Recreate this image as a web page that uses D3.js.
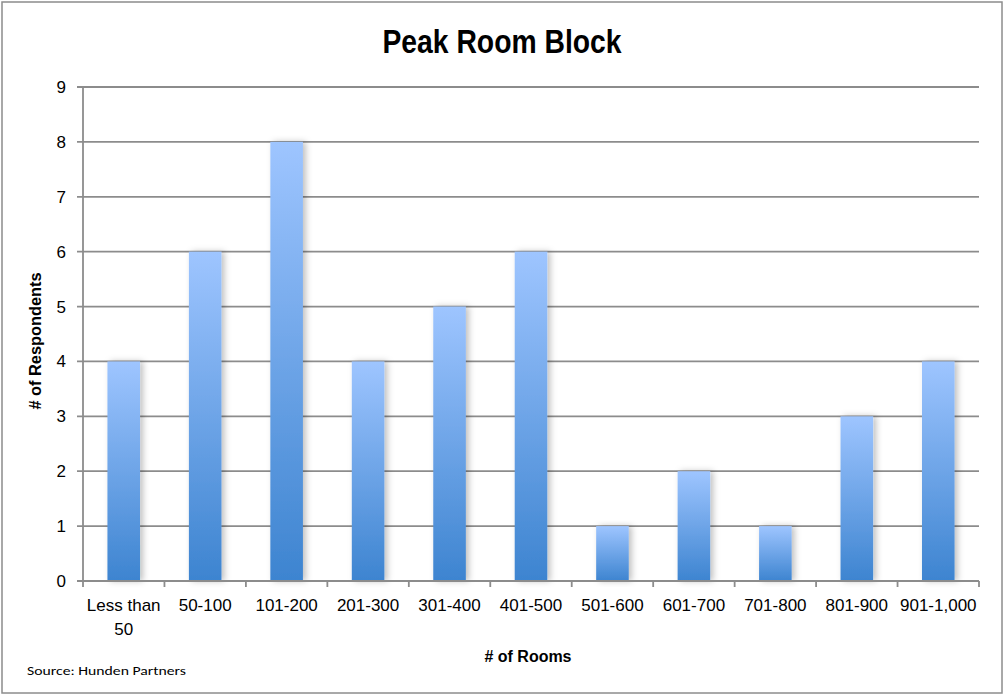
<!DOCTYPE html>
<html>
<head>
<meta charset="utf-8">
<script src="https://cdn.jsdelivr.net/npm/d3@7"></script>
<style>
  body { margin: 0; background: #fff; }
  .narrow { font-family: "Liberation Sans Narrow", "Arial Narrow", "Liberation Sans", Arial, sans-serif; }
</style>
</head>
<body>
<script>
// data
const categories = ["Less than 50", "50-100", "101-200", "201-300", "301-400", "401-500",
  "501-600", "601-700", "701-800", "801-900", "901-1,000"];
const respondents = [4, 6, 8, 4, 5, 6, 1, 2, 1, 3, 4];
const yTicks = [0, 1, 2, 3, 4, 5, 6, 7, 8, 9];

const width = 1003, height = 694;
const margin = { top: 87, right: 24, bottom: 113, left: 83 };

var svg = d3.select("body").append("svg")
  .attr("width", width)
  .attr("height", height);

// gradient + shadow
var defs = svg.append("defs");
var grad = defs.append("linearGradient")
  .attr("id", "barGrad")
  .attr("x1", 0).attr("y1", 0).attr("x2", 0).attr("y2", 1);
grad.append("stop").attr("offset", "0%").attr("stop-color", "#9ec5ff");
grad.append("stop").attr("offset", "100%").attr("stop-color", "#3d84d0");

var filt = defs.append("filter").attr("id", "shadow")
  .attr("x", "-30%").attr("y", "-10%").attr("width", "170%").attr("height", "120%");
filt.append("feDropShadow")
  .attr("dx", 3).attr("dy", 0).attr("stdDeviation", 3)
  .attr("flood-color", "#000").attr("flood-opacity", 0.25);

// outer border
svg.append("rect")
  .attr("x", 2).attr("y", 2)
  .attr("width", width - 3).attr("height", height - 3)
  .attr("fill", "none")
  .attr("stroke", "#8c8c8c")
  .attr("stroke-width", 1.5);

var x = d3.scaleBand()
  .domain(categories)
  .range([margin.left, width - margin.right])
  .paddingInner(0.6)
  .paddingOuter(0.3);

var y = d3.scaleLinear()
  .domain([0, 9])
  .range([height - margin.bottom, margin.top]);

// gridlines
svg.append("g")
  .selectAll("line")
  .data(yTicks)
  .enter()
  .append("line")
  .attr("x1", margin.left - 6)
  .attr("x2", width - margin.right)
  .attr("y1", d => y(d))
  .attr("y2", d => y(d))
  .attr("stroke", "#8c8c8c")
  .attr("stroke-width", 1.8);

// y axis line
svg.append("line")
  .attr("x1", margin.left).attr("x2", margin.left)
  .attr("y1", y(9)).attr("y2", y(0))
  .attr("stroke", "#8c8c8c").attr("stroke-width", 1.8);

// y tick labels
svg.append("g")
  .selectAll("text")
  .data(yTicks)
  .enter()
  .append("text")
  .attr("class", "narrow")
  .attr("x", margin.left - 17)
  .attr("y", d => y(d) + 6)
  .attr("text-anchor", "end")
  .style("font-size", "17px")
  .text(d => d);

// bars
svg.append("g")
  .selectAll("rect")
  .data(respondents)
  .enter()
  .append("rect")
  .attr("x", (d, i) => x(categories[i]))
  .attr("y", d => y(d))
  .attr("width", x.bandwidth())
  .attr("height", d => y(0) - y(d))
  .attr("fill", "url(#barGrad)")
  .attr("filter", "url(#shadow)");

// x axis line + ticks at band boundaries
var bounds = d3.range(categories.length + 1).map(i => margin.left + i * (width - margin.right - margin.left) / categories.length);
svg.append("line")
  .attr("x1", margin.left).attr("x2", width - margin.right)
  .attr("y1", y(0)).attr("y2", y(0))
  .attr("stroke", "#8c8c8c").attr("stroke-width", 1.8);
svg.append("g")
  .selectAll("line")
  .data(bounds)
  .enter()
  .append("line")
  .attr("x1", d => d).attr("x2", d => d)
  .attr("y1", y(0)).attr("y2", y(0) + 6)
  .attr("stroke", "#8c8c8c").attr("stroke-width", 1.8);

// x labels
var xl = svg.append("g")
  .selectAll("text")
  .data(categories)
  .enter()
  .append("text")
  .attr("class", "narrow")
  .attr("text-anchor", "middle")
  .attr("x", d => x(d) + x.bandwidth() / 2)
  .attr("y", y(0) + 30)
  .style("font-size", "17px");
xl.each(function (d) {
  var t = d3.select(this);
  if (d === "Less than 50") {
    t.append("tspan").attr("x", x(d) + x.bandwidth() / 2).text("Less than");
    t.append("tspan").attr("x", x(d) + x.bandwidth() / 2).attr("dy", 24).text("50");
  } else {
    t.text(d);
  }
});

// title
svg.append("text")
  .attr("class", "narrow")
  .attr("x", 502)
  .attr("y", 53)
  .attr("text-anchor", "middle")
  .attr("textLength", 239)
  .attr("lengthAdjust", "spacingAndGlyphs")
  .style("font-size", "33px")
  .style("font-weight", "bold")
  .text("Peak Room Block");

// axis titles
svg.append("text")
  .attr("class", "narrow")
  .attr("transform", "translate(41,341) rotate(-90)")
  .attr("text-anchor", "middle")
  .attr("textLength", 137)
  .attr("lengthAdjust", "spacingAndGlyphs")
  .style("font-size", "16px")
  .style("font-weight", "bold")
  .text("# of Respondents");

svg.append("text")
  .attr("class", "narrow")
  .attr("x", 528)
  .attr("y", 662)
  .attr("text-anchor", "middle")
  .attr("textLength", 87)
  .attr("lengthAdjust", "spacingAndGlyphs")
  .style("font-size", "16px")
  .style("font-weight", "bold")
  .text("# of Rooms");

svg.append("text")
  .attr("x", 27)
  .attr("y", 675)
  .attr("textLength", 159)
  .attr("lengthAdjust", "spacingAndGlyphs")
  .style("font-family", "Carlito, Calibri, 'Open Sans', sans-serif")
  .style("font-size", "13px")
  .text("Source: Hunden Partners");
</script>
</body>
</html>
